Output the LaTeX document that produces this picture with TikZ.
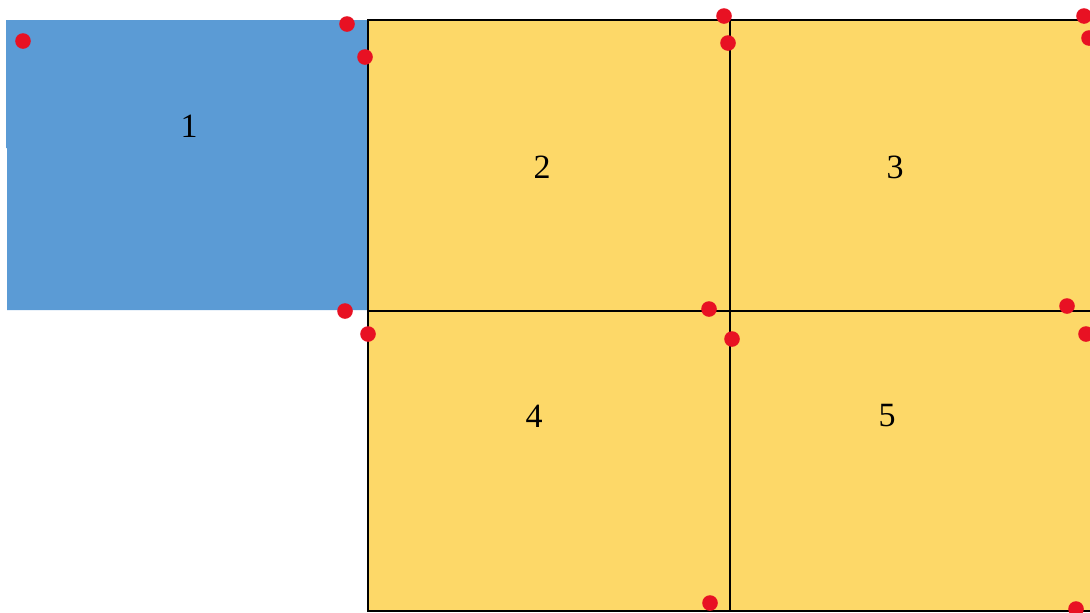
\documentclass[tikz,border=0pt]{standalone}
\usepackage{fontspec}
\setmainfont{Liberation Serif}
\usepackage{xcolor}

\definecolor{cellblue}{HTML}{5B9BD5}
\definecolor{cellyellow}{HTML}{FDD868}
\definecolor{dotred}{HTML}{E81123}

\begin{document}
\begin{tikzpicture}[x=0.5pt, y=-0.5pt,
  cell/.style={rectangle, draw, line width=1.2pt, fill=cellyellow,
    minimum width=181pt, inner sep=0pt, outer sep=0pt, anchor=north west},
  lbl/.style={font=\fontsize{17}{19}\selectfont, inner sep=0pt},
  corner/.style={circle, fill=dotred, inner sep=0pt, minimum size=7.8pt}
]
\useasboundingbox (0,0) rectangle (1090,612);

% blue block
\fill[cellblue] (6,20) -- (367,20) -- (367,310) -- (7,310) -- (7,148) -- (6,148) -- cycle;

% yellow grid
\node[cell, minimum height=145.5pt] (cell2) at (368,20) {};
\node[cell, minimum height=145.5pt] (cell3) at (730,20) {};
\node[cell, minimum height=150pt] (cell4) at (368,311) {};
\node[cell, minimum height=150pt] (cell5) at (730,311) {};

% numbers
\node[lbl] (n1) at (189,126) {1};
\node[lbl] (n2) at (542,167) {2};
\node[lbl] (n3) at (895,167) {3};
\node[lbl] (n4) at (534,416) {4};
\node[lbl] (n5) at (887,416) {5};

% red points
\foreach \px/\py [count=\i] in {23/41, 347/24, 365/57, 724/16, 728/43, 1084/16,
    1089/38, 345/311, 368/334, 709/309, 732/339, 1067/306, 1086/334,
    710/603, 1076/609}
  \node[corner] (p\i) at (\px,\py) {};

\end{tikzpicture}
\end{document}
